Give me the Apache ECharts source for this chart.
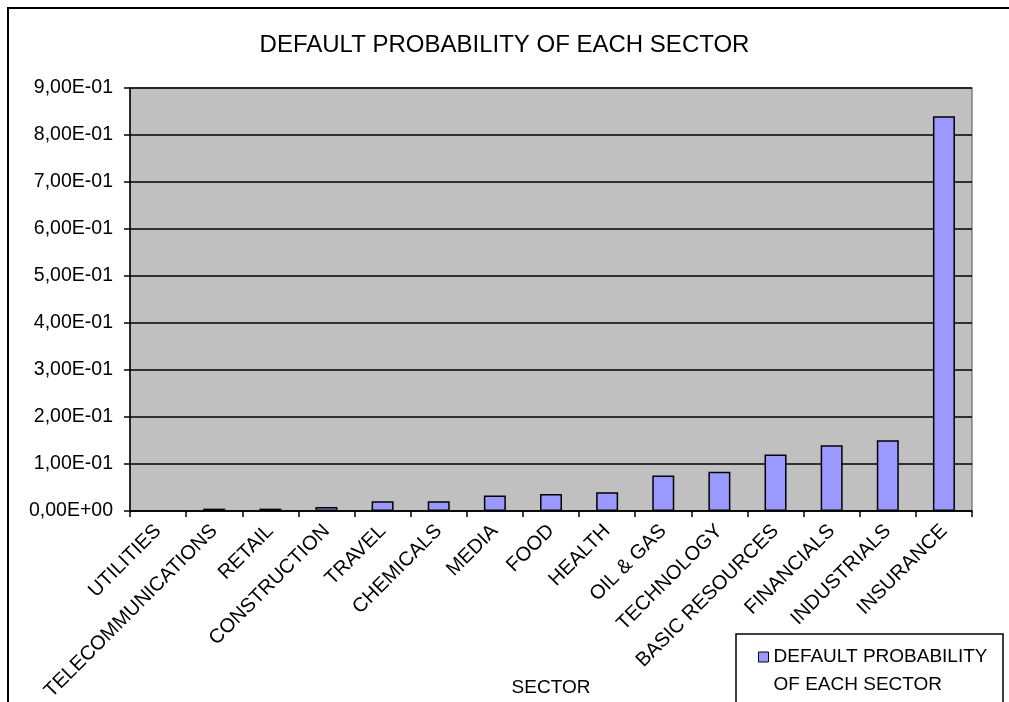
<!DOCTYPE html>
<html>
<head>
<meta charset="utf-8">
<script src="https://cdn.jsdelivr.net/npm/echarts@6/dist/echarts.min.js"></script>
<style>
  html, body { margin: 0; padding: 0; background: #fff; }
  #chart { width: 1009px; height: 702px; }
</style>
</head>
<body>
<div id="chart"></div>
<script>
// Sectors, ordered by default probability
const sectors = [
  'UTILITIES', 'TELECOMMUNICATIONS', 'RETAIL', 'CONSTRUCTION', 'TRAVEL',
  'CHEMICALS', 'MEDIA', 'FOOD', 'HEALTH', 'OIL & GAS', 'TECHNOLOGY',
  'BASIC RESOURCES', 'FINANCIALS', 'INDUSTRIALS', 'INSURANCE'
];
const defaultProbability = [
  0, 0.005, 0.005, 0.0086, 0.0207,
  0.0207, 0.0328, 0.0364, 0.040, 0.0756, 0.0835,
  0.120, 0.140, 0.1506, 0.840
];
const seriesName = 'DEFAULT PROBABILITY OF EACH SECTOR';
const yTicks = { min: 0, max: 0.9, step: 0.1 };

// Scientific notation with a decimal comma, e.g. 9,00E-01
function sci(v) {
  if (Math.abs(v) < 1e-12) return '0,00E+00';
  const [m, e] = v.toExponential(2).split('e');
  const n = parseInt(e, 10);
  const exp = (n < 0 ? '-' : '+') + String(Math.abs(n)).padStart(2, '0');
  return m.replace('.', ',') + 'E' + exp;
}

const font = 'Liberation Sans, Arial, sans-serif';
const chart = echarts.init(document.getElementById('chart'));

// a zero-height bar gets no outline
const barData = defaultProbability.map(v =>
  v === 0 ? { value: v, itemStyle: { borderWidth: 0 } } : v
);

chart.setOption({
  animation: false,
  backgroundColor: '#ffffff',
  textStyle: { fontFamily: font },
  title: {
    text: 'DEFAULT PROBABILITY OF EACH SECTOR',
    left: 'center',
    top: 28,
    textStyle: { fontFamily: font, fontSize: 24, fontWeight: 'normal', color: '#000' }
  },
  grid: {
    left: 130, right: 37, top: 88, bottom: 191,
    outerBoundsMode: 'none',
    containLabel: false,
    show: true,
    backgroundColor: '#C0C0C0',
    borderColor: '#808080',
    borderWidth: 1.5
  },
  legend: {
    left: 758,
    top: 615,
    padding: 0,
    itemWidth: 10,
    itemHeight: 10,
    itemGap: 0,
    icon: 'rect',
    selectedMode: false,
    // a blank first line keeps the swatch level with the first text line
    formatter: () => ' \nDEFAULT PROBABILITY\nOF EACH SECTOR',
    itemStyle: { borderColor: '#000', borderWidth: 1 },
    textStyle: {
      fontFamily: font, fontSize: 19, color: '#000', lineHeight: 28
    }
  },
  xAxis: {
    type: 'category',
    data: sectors,
    name: 'SECTOR',
    nameLocation: 'middle',
    nameGap: 167,
    nameMoveOverlap: false,
    nameTextStyle: { fontFamily: font, fontSize: 19, color: '#000' },
    axisLine: { lineStyle: { color: '#000', width: 1.5 } },
    axisTick: { show: true, length: 6, lineStyle: { color: '#000', width: 1.5 } },
    axisLabel: {
      interval: 0, rotate: 45, margin: 17,
      fontFamily: font, fontSize: 20, color: '#000'
    },
    splitLine: { show: false }
  },
  yAxis: {
    type: 'value',
    min: yTicks.min,
    max: yTicks.max,
    interval: yTicks.step,
    axisLine: { show: true, lineStyle: { color: '#000', width: 1.5 } },
    axisTick: { show: true, length: 6, lineStyle: { color: '#000', width: 1.5 } },
    axisLabel: {
      formatter: sci, margin: 17,
      fontFamily: font, fontSize: 19.5, color: '#000'
    },
    splitLine: { show: true, lineStyle: { color: '#000', width: 1.5 } }
  },
  series: [{
    name: seriesName,
    type: 'bar',
    data: barData,
    barWidth: 22,
    itemStyle: { color: '#9999FF', borderColor: '#000', borderWidth: 1.5 }
  }],
  graphic: [
    {
      type: 'rect',
      shape: { x: 8, y: 8, width: 1020, height: 720 },
      style: { fill: 'none', stroke: '#000', lineWidth: 2 },
      silent: true,
      z: -1
    },
    {
      type: 'rect',
      shape: { x: 736, y: 634, width: 267, height: 90 },
      style: { fill: '#fff', stroke: '#000', lineWidth: 1.5 },
      silent: true,
      z: -1
    }
  ]
});
</script>
</body>
</html>
